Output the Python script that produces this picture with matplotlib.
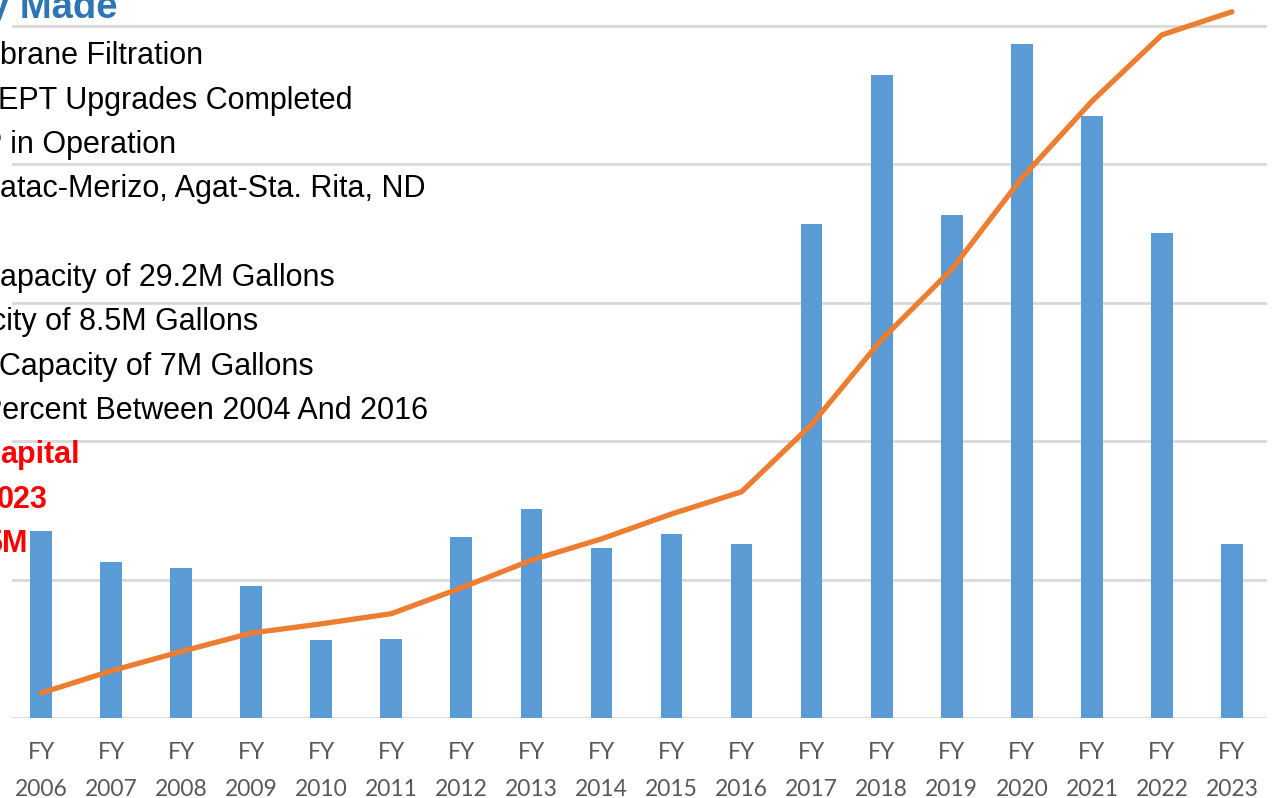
import matplotlib.pyplot as plt

W, H = 1273, 798

years = ["2006", "2007", "2008", "2009", "2010", "2011", "2012", "2013", "2014",
         "2015", "2016", "2017", "2018", "2019", "2020", "2021", "2022", "2023"]
tick_labels = [f"FY\n{y}" for y in years]

# annual capital spend ($M) and running total ($M)
annual = [27.0, 22.6, 21.6, 19.0, 11.2, 11.4, 26.2, 30.2, 24.6,
          26.6, 25.2, 71.4, 92.8, 72.6, 97.4, 87.0, 70.0, 25.2]
cumulative = [27, 51, 72, 92, 102, 113, 141, 171, 194,
              221, 245, 318, 410, 486, 585, 668, 740, 765]

black_lines = [
    (64, 0, "brane Filtration"),
    (109, -2, "EPT Upgrades Completed"),
    (153, -18, "P in Operation"),
    (197, 0, "atac-Merizo, Agat-Sta. Rita, ND"),
    (286, 0, "apacity of 29.2M Gallons"),
    (330, -9, "city of 8.5M Gallons"),
    (375, -1, "Capacity of 7M Gallons"),
    (419, -18, "Percent Between 2004 And 2016"),
]
red_lines = [
    (463, 0, "apital"),
    (508, -3, "023"),
    (552, -15, "5M"),
]

fig = plt.figure(figsize=(W / 100, H / 100), dpi=100)
ax = fig.add_axes([12 / W, 80 / H, (1267 - 12) / W, 718 / H])

x = list(range(len(years)))
ax.bar(x, annual, width=0.31, color="#5B9BD5", zorder=2)

ax2 = ax.twinx()
ax2.plot(x, cumulative, color="#ED7D31", linewidth=3.8, solid_capstyle="round",
         clip_on=False, zorder=3)
ax2.set_ylim(0, 103.7 * 7.5)
ax2.set_yticks([])
for s in ax2.spines.values():
    s.set_visible(False)

ax.set_xlim(-0.414, 17.5)
ax.set_ylim(0, 103.7)
ax.set_yticks(range(0, 101, 20))
ax.yaxis.grid(True, color="#D9D9D9", linewidth=2, zorder=0)
ax.set_axisbelow(True)
ax.tick_params(axis="y", left=False, right=False, labelleft=False)
ax.tick_params(axis="x", length=0, pad=17)
ax.set_xticks(x)
ax.set_xticklabels(tick_labels, fontfamily="Lato", fontsize=16.5,
                   color="#595959", linespacing=1.98)
for s in ax.spines.values():
    s.set_visible(False)

fig.text(-12 / W, 1 - 18 / H, "y Made", fontfamily="Liberation Sans",
         fontsize=27.5, fontweight="bold", color="#2E75B6", va="baseline")
for y, dx, txt in black_lines:
    fig.text(dx / W, 1 - y / H, txt, fontfamily="Liberation Sans",
             fontsize=22, color="black", va="baseline")
for y, dx, txt in red_lines:
    fig.text(dx / W, 1 - y / H, txt, fontfamily="Liberation Sans",
             fontsize=22, fontweight="bold", color="#FF0000", va="baseline")

fig.savefig("out.png", dpi=100)
